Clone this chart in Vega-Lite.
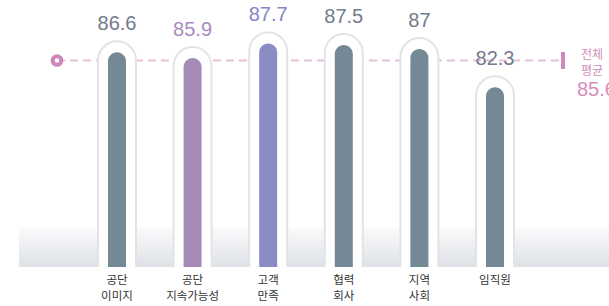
{
  "$schema": "https://vega.github.io/schema/vega-lite/v6.json",
  "width": 590,
  "height": 267,
  "autosize": {"type": "none"},
  "padding": {"left": 19, "top": 0, "right": 0, "bottom": 39},
  "background": "white",
  "config": {"view": {"stroke": null}},
  "datasets": {
    "scores": [
      {"name": "공단\n이미지", "score": 86.6},
      {"name": "공단\n지속가능성", "score": 85.9},
      {"name": "고객\n만족", "score": 87.7},
      {"name": "협력\n회사", "score": 87.5},
      {"name": "지역\n사회", "score": 87},
      {"name": "임직원", "score": 82.3}
    ],
    "average": [
      {"label": "전체\n평균", "avg": 85.6}
    ]
  },
  "data": {"name": "scores"},
  "layer": [
    {
      "data": {"values": [{}]},
      "mark": {
        "type": "rect",
        "fill": {"gradient": "linear", "x1": 0, "y1": 0, "x2": 0, "y2": 1,
          "stops": [{"offset": 0, "color": "#fbfbfc"}, {"offset": 1, "color": "#dde1e6"}]}
      },
      "encoding": {
        "y": {"datum": 65.1, "type": "quantitative", "scale": {"domain": [60.2, 93.04], "zero": false, "nice": false}, "axis": null},
        "y2": {"datum": 60.2}
      }
    },
    {
      "data": {"name": "average"},
      "mark": {"type": "rule", "stroke": "#e8c2dc", "strokeWidth": 2, "strokeDash": [8, 5], "xOffset": -60, "x2Offset": 68},
      "encoding": {
        "x": {"datum": "공단\n이미지", "type": "nominal", "scale": {"type": "band", "domain": ["공단\n이미지", "공단\n지속가능성", "고객\n만족", "협력\n회사", "지역\n사회", "임직원"], "paddingInner": 0.196, "paddingOuter": 1, "align": 0.447}},
        "x2": {"datum": "임직원"},
        "y": {"field": "avg", "type": "quantitative"}
      }
    },
    {
      "mark": {"type": "bar", "width": 38, "fill": "white", "stroke": "#e3e3e3", "strokeWidth": 2, "cornerRadiusTopLeft": 19, "cornerRadiusTopRight": 19, "yOffset": -11, "clip": true},
      "encoding": {
        "x": {"field": "name", "type": "nominal", "scale": {"type": "band", "domain": ["공단\n이미지", "공단\n지속가능성", "고객\n만족", "협력\n회사", "지역\n사회", "임직원"], "paddingInner": 0.196, "paddingOuter": 1, "align": 0.447}},
        "y": {"field": "score", "type": "quantitative"},
        "y2": {"datum": 58}
      }
    },
    {
      "mark": {"type": "bar", "width": 18, "cornerRadiusTopLeft": 9, "cornerRadiusTopRight": 9},
      "encoding": {
        "x": {
          "field": "name", "type": "nominal",
          "scale": {"type": "band", "domain": ["공단\n이미지", "공단\n지속가능성", "고객\n만족", "협력\n회사", "지역\n사회", "임직원"], "paddingInner": 0.196, "paddingOuter": 1, "align": 0.447},
          "axis": {"title": null, "domain": false, "ticks": false, "labelAngle": 0, "labelAlign": "center", "labelPadding": 7, "labelFont": "Noto Sans CJK KR", "labelFontSize": 11.5, "labelColor": "#333333", "labelLineHeight": 16, "labelBaseline": "top", "labelExpr": "split(datum.label, '\\n')"}
        },
        "y": {"field": "score", "type": "quantitative"},
        "y2": {"datum": 60.2},
        "color": {
          "field": "name", "type": "nominal", "legend": null,
          "scale": {"domain": ["공단\n이미지", "공단\n지속가능성", "고객\n만족", "협력\n회사", "지역\n사회", "임직원"], "range": ["#748995", "#a68ab8", "#8b8cc4", "#748995", "#748995", "#748995"]}
        }
      }
    },
    {
      "mark": {"type": "text", "dy": -28, "baseline": "middle", "align": "center", "font": "Liberation Sans", "fontSize": 20},
      "encoding": {
        "x": {"field": "name", "type": "nominal", "scale": {"type": "band", "domain": ["공단\n이미지", "공단\n지속가능성", "고객\n만족", "협력\n회사", "지역\n사회", "임직원"], "paddingInner": 0.196, "paddingOuter": 1, "align": 0.447}},
        "y": {"field": "score", "type": "quantitative"},
        "text": {"field": "score", "type": "quantitative"},
        "fill": {
          "field": "name", "type": "nominal", "legend": null,
          "scale": {"domain": ["공단\n이미지", "공단\n지속가능성", "고객\n만족", "협력\n회사", "지역\n사회", "임직원"], "range": ["#737b8d", "#a98bc1", "#8585c6", "#737b8d", "#737b8d", "#737b8d"]}
        }
      }
    },
    {
      "data": {"name": "average"},
      "mark": {"type": "circle", "fill": "white", "stroke": "#cf86b8", "strokeWidth": 4, "size": 75, "opacity": 1, "xOffset": -60},
      "encoding": {
        "x": {"datum": "공단\n이미지", "type": "nominal", "scale": {"type": "band", "domain": ["공단\n이미지", "공단\n지속가능성", "고객\n만족", "협력\n회사", "지역\n사회", "임직원"], "paddingInner": 0.196, "paddingOuter": 1, "align": 0.447}},
        "y": {"field": "avg", "type": "quantitative"}
      }
    },
    {
      "data": {"name": "average"},
      "mark": {"type": "rule", "stroke": "#cf8cbb", "strokeWidth": 4, "xOffset": 68, "yOffset": -8.5, "y2Offset": 8.5},
      "encoding": {
        "x": {"datum": "임직원", "type": "nominal", "scale": {"type": "band", "domain": ["공단\n이미지", "공단\n지속가능성", "고객\n만족", "협력\n회사", "지역\n사회", "임직원"], "paddingInner": 0.196, "paddingOuter": 1, "align": 0.447}},
        "y": {"field": "avg", "type": "quantitative"},
        "y2": {"field": "avg"}
      }
    },
    {
      "data": {"name": "average"},
      "mark": {"type": "text", "lineBreak": "\n", "lineHeight": 16, "font": "Noto Sans CJK KR", "fontSize": 12, "fill": "#d08cb8", "align": "center", "baseline": "middle", "xOffset": 97, "dy": -5.5},
      "encoding": {
        "x": {"datum": "임직원", "type": "nominal", "scale": {"type": "band", "domain": ["공단\n이미지", "공단\n지속가능성", "고객\n만족", "협력\n회사", "지역\n사회", "임직원"], "paddingInner": 0.196, "paddingOuter": 1, "align": 0.447}},
        "y": {"field": "avg", "type": "quantitative"},
        "text": {"field": "label", "type": "nominal"}
      }
    },
    {
      "data": {"name": "average"},
      "mark": {"type": "text", "font": "Liberation Sans", "fontSize": 20, "fill": "#d48dbd", "align": "left", "baseline": "middle", "xOffset": 82, "dy": 29.5},
      "encoding": {
        "x": {"datum": "임직원", "type": "nominal", "scale": {"type": "band", "domain": ["공단\n이미지", "공단\n지속가능성", "고객\n만족", "협력\n회사", "지역\n사회", "임직원"], "paddingInner": 0.196, "paddingOuter": 1, "align": 0.447}},
        "y": {"field": "avg", "type": "quantitative"},
        "text": {"field": "avg", "type": "quantitative"}
      }
    }
  ],
  "resolve": {"scale": {"fill": "independent", "color": "independent"}}
}
